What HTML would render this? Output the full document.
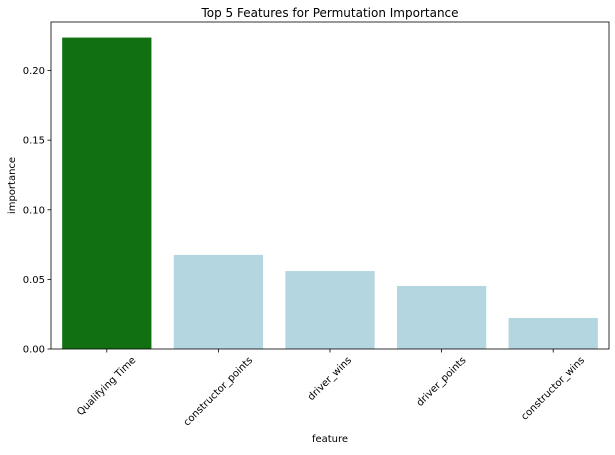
<!DOCTYPE html>
<html><head><meta charset="utf-8"><style>
body{margin:0;background:#fff;font-family:"Liberation Sans","DejaVu Sans",sans-serif;}
svg text{font-family:"DejaVu Sans","Liberation Sans",sans-serif;fill:#000;}
</style></head><body>
<svg id="chart" width="615" height="450" xmlns="http://www.w3.org/2000/svg"></svg>
<script>
const categories = ["Qualifying Time","constructor_points","driver_wins","driver_points","constructor_wins"];
const values = [0.2237,0.0676,0.0560,0.0453,0.0223];
const yTicks = [0,0.05,0.10,0.15,0.20];
const yTickLabels = ["0.00","0.05","0.10","0.15","0.20"];

const svg = document.getElementById('chart');
const NS = 'http://www.w3.org/2000/svg';
const L=51, R=609, T=22, B=349;
const yMax = Math.max(...values)*1.05;
const y = v => B - v/yMax*(B-T);
const step = (R-L)/categories.length;
const xc = i => L + step*(i+0.5);
function mk(tag, attrs, txt){const e=document.createElementNS(NS,tag);for(const k in attrs)e.setAttribute(k,attrs[k]);if(txt!==undefined)e.textContent=txt;svg.appendChild(e);return e;}

const title = mk('text',{x:(L+R)/2,y:17,'text-anchor':'middle','font-size':12},'Top 5 Features for Permutation Importance');



categories.forEach((c,i)=>{
  const bw = step*0.8;
  const r = mk('rect',{x:xc(i)-bw/2,y:y(values[i]),width:bw,height:B-y(values[i]),fill:i===0?'#117010':'#b3d6e0'});
  
  
  const tk = mk('line',{x1:xc(i),x2:xc(i),y1:B,y2:B+3.5,stroke:'#000','stroke-width':0.8});
  
  
  const t = mk('text',{x:0,y:0,'text-anchor':'middle','font-size':10,'dominant-baseline':'central'},c);
  const len = t.getComputedTextLength();
  const cy = B + 6 + (len*0.7071 + 11*0.7071)/2;
  t.setAttribute('x',xc(i)); t.setAttribute('y',cy);
  t.setAttribute('transform',`rotate(-45 ${xc(i)} ${cy})`);
  
  
});

yTicks.forEach((v,i)=>{
  const tk = mk('line',{x1:L-3.5,x2:L,y1:y(v),y2:y(v),stroke:'#000','stroke-width':0.8});
  
  
  const t = mk('text',{x:L-6,y:y(v)+3.5,'text-anchor':'end','font-size':10},yTickLabels[i]);
  
  
});

const frame = mk('rect',{x:L,y:T,width:R-L,height:B-T,fill:'none',stroke:'#000','stroke-width':0.8});



const xl = mk('text',{x:(L+R)/2,y:442,'text-anchor':'middle','font-size':10},'feature');


const yl = mk('text',{x:15,y:(T+B)/2,'text-anchor':'middle','font-size':10,transform:`rotate(-90 15 ${(T+B)/2})`},'importance');


</script>
</body></html>
